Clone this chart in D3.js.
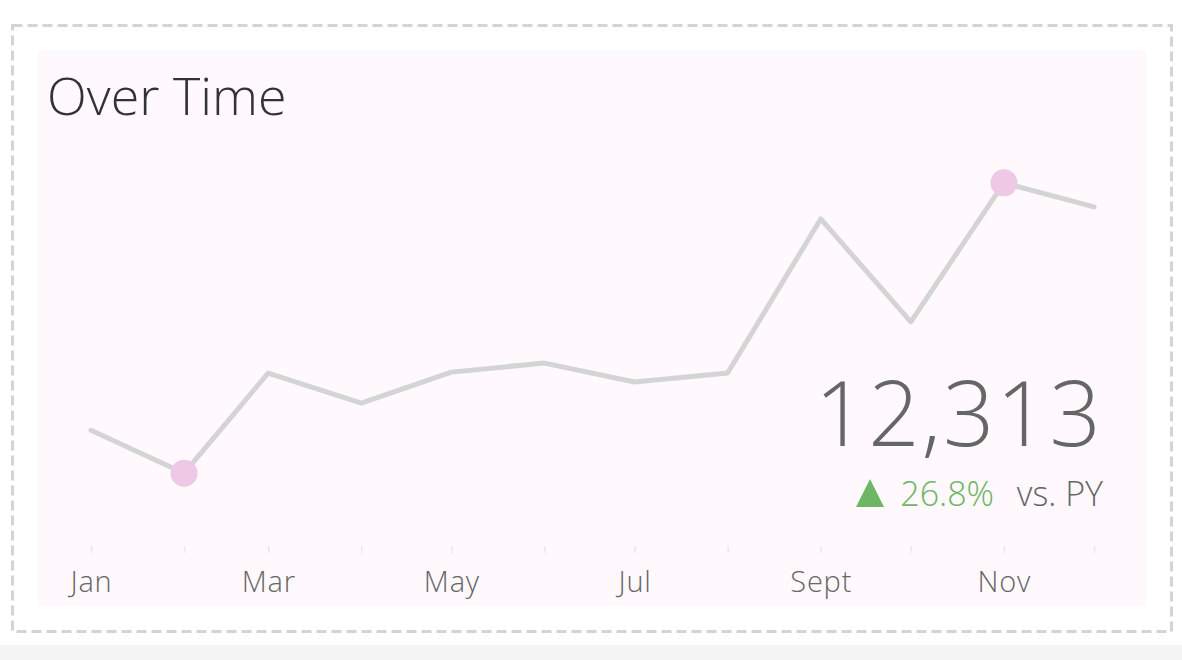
<!DOCTYPE html>
<html>
<head>
<meta charset="utf-8">
<script src="https://cdn.jsdelivr.net/npm/d3@7"></script>
<style>
  body { margin: 0; background: #fff; font-family: "Open Sans", sans-serif; }
  svg { display: block; }
</style>
</head>
<body>
<div id="chart"></div>
<script>
// monthly values
var months = ["2023-01-01", "2023-02-01", "2023-03-01", "2023-04-01", "2023-05-01", "2023-06-01",
              "2023-07-01", "2023-08-01", "2023-09-01", "2023-10-01", "2023-11-01", "2023-12-01"];
var values = [732, 589, 922, 822, 925, 955, 892, 922, 1434, 1092, 1554, 1474];
var monthNames = ["Jan", "Feb", "Mar", "Apr", "May", "Jun", "Jul", "Aug", "Sept", "Oct", "Nov", "Dec"];
var tickLabels = ["Jan", "Mar", "May", "Jul", "Sept", "Nov"];
var title = "Over Time";
var kpiTotal = 12313;
var kpiChange = 0.268;

var w = 1182, h = 660;
var parseDate = d3.timeParse("%Y-%m-%d");
var dates = months.map(parseDate);

var svg = d3.select("#chart").append("svg")
    .attr("width", w)
    .attr("height", h);

// grey band at the bottom of the page
svg.append("rect")
    .attr("x", 0).attr("y", 645)
    .attr("width", w).attr("height", 15)
    .attr("fill", "#f4f4f4");

// dashed container
svg.append("rect")
    .attr("x", 12.5).attr("y", 25.5)
    .attr("width", 1159).attr("height", 606)
    .attr("fill", "none")
    .attr("stroke", "#d4d4d4")
    .attr("stroke-width", 3)
    .attr("stroke-dasharray", "10,5");

// pink panel
svg.append("rect")
    .attr("x", 38).attr("y", 51)
    .attr("width", 1108).attr("height", 555)
    .attr("fill", "#fff8fc");

svg.append("text")
    .attr("x", 47).attr("y", 115)
    .attr("font-size", 52)
    .attr("font-weight", 300)
    .attr("fill", "#333")
    .text(title);

var xScale = d3.scaleTime()
    .domain(d3.extent(dates))
    .range([91, 1094]);

var yScale = d3.scaleLinear()
    .domain([500, 1600])
    .range([500, 169]);

// x axis: faint ticks for every month, labels every other month
var xAxis = d3.axisBottom(xScale)
    .tickValues(dates)
    .tickSize(7)
    .tickFormat(d => {
        var m = monthNames[d.getMonth()];
        return tickLabels.indexOf(m) >= 0 ? m : "";
    });

var gx = svg.append("g")
    .attr("transform", "translate(0, 546)")
    .call(xAxis);
gx.select(".domain").remove();
gx.selectAll(".tick line")
    .attr("stroke", "#ece6ea")
    .attr("stroke-width", 1.5);
gx.selectAll(".tick text")
    .attr("y", 25)
    .attr("font-family", "Open Sans, sans-serif")
    .attr("font-size", 29)
    .attr("font-weight", 300)
    .attr("letter-spacing", 0.8)
    .attr("fill", "#666");

var line = d3.line()
    .x((d, i) => xScale(dates[i]))
    .y(d => yScale(d));

svg.append("path")
    .datum(values)
    .attr("d", line)
    .attr("fill", "none")
    .attr("stroke", "#d4d4d4")
    .attr("stroke-width", 5)
    .attr("stroke-linecap", "round")
    .attr("stroke-linejoin", "round");

// highlight min and max months
var iMin = values.indexOf(d3.min(values));
var iMax = values.indexOf(d3.max(values));
svg.selectAll(".dot")
    .data([iMin, iMax])
    .enter()
    .append("circle")
    .attr("class", "dot")
    .attr("cx", i => xScale(dates[i]))
    .attr("cy", i => yScale(values[i]))
    .attr("r", 13.5)
    .attr("fill", "#eec8e5");

// KPI text
svg.append("text")
    .attr("x", 1103).attr("y", 446)
    .attr("text-anchor", "end")
    .attr("font-size", 90)
    .attr("font-weight", 300)
    .attr("letter-spacing", 2)
    .attr("fill", "#666")
    .text(d3.format(",")(kpiTotal));

svg.append("text")
    .attr("x", 1103).attr("y", 506)
    .attr("text-anchor", "end")
    .attr("font-size", 34)
    .attr("font-weight", 300)
    .attr("fill", "#666")
    .text("vs. PY");

svg.append("text")
    .attr("x", 994).attr("y", 506)
    .attr("text-anchor", "end")
    .attr("font-size", 34)
    .attr("font-weight", 300)
    .attr("fill", "#6cb664")
    .text(d3.format(".1%")(kpiChange));

// up arrow
svg.append("path")
    .attr("d", "M0,-14L14,14L-14,14Z")
    .attr("transform", "translate(870, 493)")
    .attr("fill", "#6cb664");
</script>
</body>
</html>
